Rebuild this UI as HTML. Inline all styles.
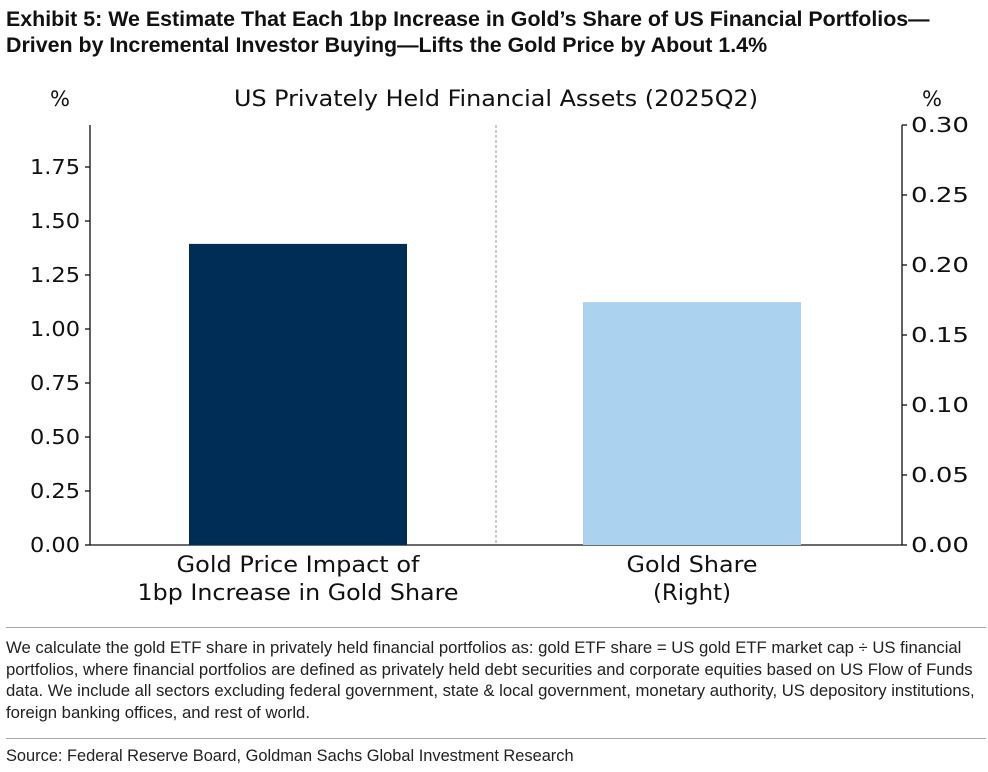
<!DOCTYPE html>
<html><head><meta charset="utf-8"><style>
body{margin:0;background:#fff;width:988px;height:772px;overflow:hidden;font-family:"Liberation Sans",sans-serif}
.t{position:absolute;left:6px;top:6px;font-weight:bold;font-size:21.4px;line-height:26px;color:#111;white-space:nowrap}
.n{position:absolute;left:6px;top:637px;font-size:16.7px;line-height:21.5px;color:#222;width:980px}
.s{position:absolute;left:6px;top:747px;font-size:16.4px;color:#222}
.hr{position:absolute;left:6px;width:980px;border-top:1px solid #aaa}
</style></head><body>
<div class="t">Exhibit 5: We Estimate That Each 1bp Increase in Gold’s Share of US Financial Portfolios—<br>Driven by Incremental Investor Buying—Lifts the Gold Price by About 1.4%</div>
<svg id="c" width="988" height="640" style="position:absolute;left:0;top:0" font-family="DejaVu Sans, sans-serif" fill="#111"></svg>
<div class="hr" style="top:627px"></div>
<div class="n">We calculate the gold ETF share in privately held financial portfolios as: gold ETF share = US gold ETF market cap ÷ US financial portfolios, where financial portfolios are defined as privately held debt securities and corporate equities based on US Flow of Funds data. We include all sectors excluding federal government, state &amp; local government, monetary authority, US depository institutions, foreign banking offices, and rest of world.</div>
<div class="hr" style="top:738px"></div>
<div class="s">Source: Federal Reserve Board, Goldman Sachs Global Investment Research</div>
<script>
const leftTicks=[0,0.25,0.5,0.75,1.0,1.25,1.5,1.75];
const rightTicks=[0,0.05,0.1,0.15,0.2,0.25,0.3];
const leftValues=[1.394];
const rightValues=[0.1735];
const categories=[["Gold Price Impact of","1bp Increase in Gold Share"],["Gold Share","(Right)"]];
const labelWidths=[[243,321],[131,78]];
const svg=document.getElementById('c');const NS='http://www.w3.org/2000/svg';
function mk(t,a,p){const e=document.createElementNS(NS,t);for(const k in a)e.setAttribute(k,a[k]);(p||svg).appendChild(e);return e;}
const X0=90,X1=902,Y0=545;
const yL=v=>Y0-v*216, yR=v=>Y0-v*1400;
let e;
e=mk('line',{x1:X0,y1:125,x2:X0,y2:Y0,stroke:'#111','stroke-width':1.3});
e=mk('line',{x1:X1,y1:125,x2:X1,y2:Y0,stroke:'#111','stroke-width':1.3});
e=mk('line',{x1:X0,y1:Y0,x2:X1,y2:Y0,stroke:'#111','stroke-width':1.3});
e=mk('line',{x1:496,y1:125,x2:496,y2:Y0,stroke:'#999','stroke-width':1,'stroke-dasharray':'3,2'});
leftTicks.forEach(v=>{const y=yL(v);
e=mk('line',{x1:X0-5,y1:y,x2:X0,y2:y,stroke:'#111','stroke-width':1.3});
e=mk('text',{x:X0-10,y:y+7,'text-anchor':'end','font-size':20,textLength:50,lengthAdjust:'spacingAndGlyphs'});e.textContent=v.toFixed(2);});
rightTicks.forEach(v=>{const y=yR(v);
e=mk('line',{x1:X1,y1:y,x2:X1+5,y2:y,stroke:'#111','stroke-width':1.3});
e=mk('text',{x:X1+9,y:y+7,'font-size':20,textLength:58,lengthAdjust:'spacingAndGlyphs'});e.textContent=v.toFixed(2);});
e=mk('rect',{x:189,y:yL(leftValues[0]),width:218,height:Y0-yL(leftValues[0]),fill:'#002d56'});
e=mk('rect',{x:583,y:yR(rightValues[0]),width:218,height:Y0-yR(rightValues[0]),fill:'#abd3f0'});
const cx=[298,692];
categories.forEach((c,i)=>c.forEach((s,j)=>{e=mk('text',{x:cx[i],y:572+j*28,'text-anchor':'middle','font-size':22,textLength:labelWidths[i][j],lengthAdjust:'spacingAndGlyphs'});e.textContent=s;}));
e=mk('text',{x:496,y:106,'text-anchor':'middle','font-size':22,textLength:524,lengthAdjust:'spacingAndGlyphs'});e.textContent='US Privately Held Financial Assets (2025Q2)';
e=mk('text',{x:60,y:106,'text-anchor':'middle','font-size':21});e.textContent='%';
e=mk('text',{x:932,y:106,'text-anchor':'middle','font-size':21});e.textContent='%';
</script>
</body></html>
